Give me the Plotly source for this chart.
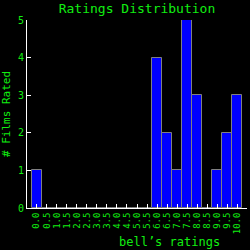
import plotly.graph_objects as go

ratings = [0.0, 0.5, 1.0, 1.5, 2.0, 2.5, 3.0, 3.5, 4.0, 4.5, 5.0, 5.5,
           6.0, 6.5, 7.0, 7.5, 8.0, 8.5, 9.0, 9.5, 10.0]
counts = [1, 0, 0, 0, 0, 0, 0, 0, 0, 0, 0, 0,
          4, 2, 1, 5, 3, 0, 1, 2, 3]
tick_labels = [f"{r:.1f}" for r in ratings]
y_ticks = [0, 1, 2, 3, 4, 5]

GREEN = "#11ee11"
FONT = "DejaVu Sans Mono"

fig = go.Figure(go.Bar(
    x=ratings, y=counts, width=0.5,
    marker=dict(color="#0000ff", line=dict(color="#808080", width=1)),
))

fig.update_layout(
    width=250, height=250,
    margin=dict(l=27, r=3, t=20, b=42),
    paper_bgcolor="black", plot_bgcolor="black",
    showlegend=False,
    bargap=0,
    font=dict(family=FONT, color=GREEN, size=9),
    title=dict(text="Ratings Distribution", x=0.548, xanchor="center",
               y=0.968, yanchor="middle",
               font=dict(family=FONT, size=13, color=GREEN)),
    xaxis=dict(
        range=[-0.475, 10.475], tickvals=ratings, ticktext=tick_labels,
        tickangle=-90, ticks="inside", ticklen=4, tickcolor="white",
        showline=True, linecolor="white", linewidth=1, showgrid=False,
        zeroline=False, tickfont=dict(family=FONT, size=9, color=GREEN),
    ),
    yaxis=dict(
        range=[0, 5], tickvals=y_ticks, ticks="inside", ticklen=4,
        tickcolor="white", showline=True, linecolor="white", linewidth=1,
        showgrid=False, zeroline=False,
        tickfont=dict(family=FONT, size=10, color=GREEN),
        title=dict(text="# Films Rated", standoff=8,
                   font=dict(family=FONT, size=11, color=GREEN)),
    ),
    annotations=[dict(text="bell’s ratings", xref="paper", yref="paper",
                      x=0.648, y=-0.18, xanchor="center", yanchor="middle",
                      showarrow=False,
                      font=dict(family=FONT, size=12, color=GREEN))],
)

fig.write_html("out.html")
